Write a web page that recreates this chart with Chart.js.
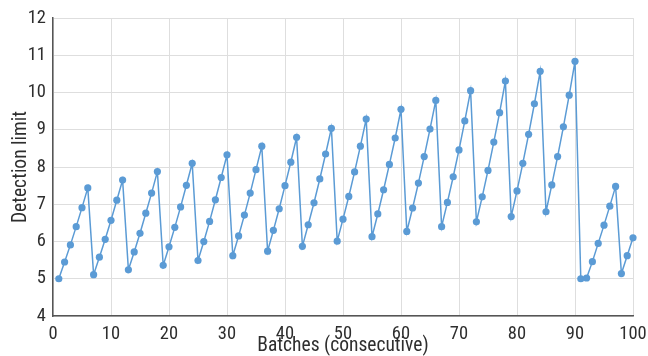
<!DOCTYPE html>
<html>
<head>
<meta charset="utf-8">
<script src="https://cdn.jsdelivr.net/npm/chart.js@4/dist/chart.umd.min.js"></script>
<style>
  html, body { margin: 0; padding: 0; background: #ffffff; }
  #wrap { width: 648px; height: 356px; position: relative; }
</style>
</head>
<body>
<div id="wrap"><canvas id="chart"></canvas></div>
<script>
// Batch numbers along the x axis
const batches = Array.from({ length: 100 }, (_, i) => i + 1);

// Detection limit per batch
const detectionLimit = [
  5.00, 5.45, 5.91, 6.40, 6.91, 7.44,
  5.11, 5.58, 6.06, 6.57, 7.11, 7.65,
  5.24, 5.72, 6.22, 6.76, 7.30, 7.88,
  5.36, 5.86, 6.38, 6.93, 7.51, 8.10,
  5.49, 6.00, 6.54, 7.12, 7.72, 8.33,
  5.62, 6.15, 6.71, 7.30, 7.93, 8.56,
  5.74, 6.30, 6.88, 7.50, 8.13, 8.80,
  5.87, 6.45, 7.04, 7.68, 8.35, 9.04,
  6.01, 6.60, 7.21, 7.87, 8.56, 9.29,
  6.13, 6.74, 7.39, 8.07, 8.78, 9.55,
  6.27, 6.90, 7.57, 8.28, 9.02, 9.79,
  6.40, 7.05, 7.74, 8.46, 9.24, 10.05,
  6.53, 7.20, 7.91, 8.67, 9.46, 10.31,
  6.67, 7.36, 8.10, 8.88, 9.70, 10.57,
  6.80, 7.52, 8.28, 9.08, 9.93, 10.84,
  5.00, 5.02, 5.46, 5.95, 6.44, 6.95, 7.48,
  5.14, 5.62, 6.10
];

const xTicks = [0, 10, 20, 30, 40, 50, 60, 70, 80, 90, 100];
const yTicks = [4, 5, 6, 7, 8, 9, 10, 11, 12];

const FONT = "'Roboto Condensed', 'DejaVu Sans Condensed', sans-serif";
const TEXT = '#2e2e2e';

new Chart(document.getElementById('chart'), {
  type: 'line',
  data: {
    datasets: [{
      data: batches.map((b, i) => ({ x: b, y: detectionLimit[i] })),
      borderColor: '#5b9bd5',
      backgroundColor: '#5b9bd5',
      borderWidth: 1.5,
      pointRadius: 3.6,
      pointBorderWidth: 0,
      tension: 0,
      clip: false
    }]
  },
  options: {
    responsive: true,
    maintainAspectRatio: false,
    animation: false,
    layout: { padding: { top: 18, right: 15, bottom: 0, left: 0 } },
    plugins: { legend: { display: false }, tooltip: { enabled: false } },
    scales: {
      x: {
        type: 'linear',
        min: 0, max: 100,
        afterBuildTicks: s => { s.ticks = xTicks.map(v => ({ value: v })); },
        afterFit: s => { s.height = 40; s.paddingLeft = 0; s.paddingRight = 15; },
        grid: { color: '#dedede', lineWidth: 1, drawTicks: false },
        border: { color: '#555555', width: 1.5 },
        ticks: { color: TEXT, padding: 7, font: { family: FONT, size: 18.5 }, maxRotation: 0 },
        title: { display: true, text: 'Batches (consecutive)', color: TEXT, font: { family: FONT, size: 19.5, lineHeight: 1 }, padding: { top: 0, bottom: 0 } }
      },
      y: {
        min: 4, max: 12,
        afterBuildTicks: s => { s.ticks = yTicks.map(v => ({ value: v })); },
        afterFit: s => { s.width = 53; },
        grid: { color: '#dedede', lineWidth: 1, drawTicks: false },
        border: { color: '#555555', width: 1.5 },
        ticks: { color: TEXT, padding: 7, font: { family: FONT, size: 18.5 } },
        title: { display: true, text: 'Detection limit', color: TEXT, font: { family: FONT, size: 19.5, lineHeight: 1 }, padding: { top: 11, bottom: 0 } }
      }
    }
  }
});
</script>
</body>
</html>
